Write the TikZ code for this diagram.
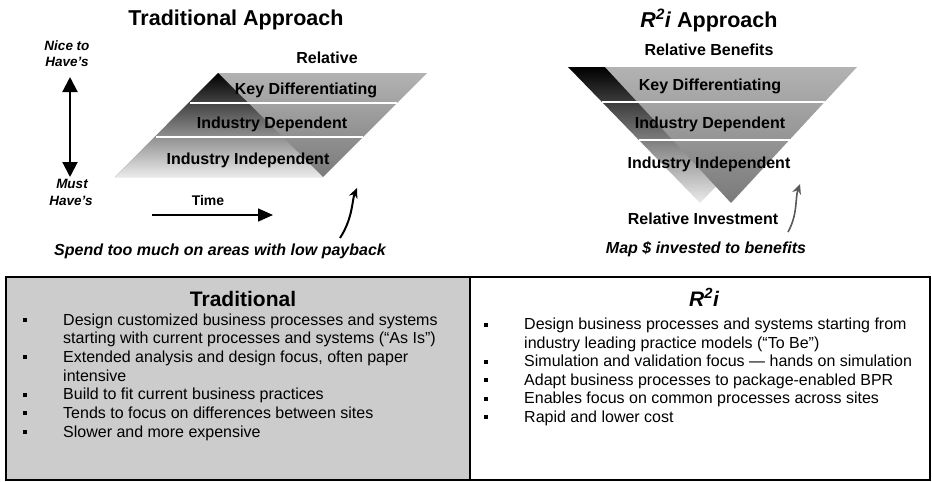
\documentclass[tikz,border=0pt]{standalone}
\usepackage{fontspec}
\setmainfont{Liberation Sans}
\usetikzlibrary{arrows.meta}

\begin{document}
\begin{tikzpicture}[x=1pt, y=-1pt,
        title/.style={font=\fontsize{21.5}{24}\selectfont\bfseries, inner sep=0pt, anchor=base},
        lbl/.style={font=\fontsize{16}{18}\selectfont\bfseries, inner sep=0pt, anchor=base},
        side/.style={font=\fontsize{13.5}{16}\selectfont\bfseries\itshape, inner sep=0pt, anchor=base},
        note/.style={font=\fontsize{16}{18}\selectfont\bfseries\itshape, inner sep=0pt, anchor=base},
        item/.style={font=\fontsize{16}{18}\selectfont, inner sep=0pt, anchor=base west},
        dot/.style={rectangle, fill=black, minimum size=4pt, inner sep=0pt},
        band/.style={white, line width=1.2pt},
        dbl/.style={line width=2pt, {Triangle[length=15pt, width=15pt]}-{Triangle[length=15pt, width=15pt]}},
        time/.style={line width=1.5pt, -{Triangle[length=15pt, width=13pt]}},
        swoosh/.style={line width=2pt, -{Stealth[length=10pt, width=9pt]}}]
        \useasboundingbox (0,0) rectangle (932,482);

        % Shapes
        \shade[top color=black!30, bottom color=black!52] (218,73) -- (427,73) -- (323,177) -- (115,177) -- cycle;
        \shade[top color=black, bottom color=black!8] (218,73) -- (323,177) -- (115,177) -- cycle;
        \draw[band] (190,103) -- (397,103);
        \draw[band] (156,137) -- (363,137);

        \shade[top color=black, bottom color=black!8] (568,67) -- (832,67) -- (700,203) -- cycle;
        \shade[top color=black!30, bottom color=black!52] (605,67) -- (857,67) -- (731,203) -- cycle;
        \draw[band] (602,102) -- (825,102);
        \draw[band] (639,140) -- (790,140);

        \fill[black!20] (6,277) rectangle (470,480);
        \draw[line width=1.2pt] (6,277) rectangle (930,480);
        \draw[line width=1.5pt] (470,277) -- (470,480);

        % Nodes
        \node[title] (tradtitle) at (236,25) {Traditional Approach};
        \node[title] (rtitle) at (709,27) {\textit{R\textsuperscript{2}i} Approach};

        \node[side] (nice1) at (67,50) {Nice to};
        \node[side] (nice2) at (67,66) {Have’s};
        \node[side] (must1) at (72,188) {Must};
        \node[side] (must2) at (71,205) {Have’s};
        \node[lbl, font=\fontsize{14}{16}\selectfont\bfseries] (time) at (208,205) {Time};

        \node[lbl] (rel) at (327,63) {Relative};
        \node[lbl] (key1) at (306,94) {Key Differentiating};
        \node[lbl] (dep1) at (272,128) {Industry Dependent};
        \node[lbl] (ind1) at (248,164) {Industry Independent};
        \node[note] (spend) at (220,255) {Spend too much on areas with low payback};

        \node[lbl] (ben) at (709,55) {Relative Benefits};
        \node[lbl] (key2) at (710,90) {Key Differentiating};
        \node[lbl] (dep2) at (710,128) {Industry Dependent};
        \node[lbl] (ind2) at (709,168) {Industry Independent};
        \node[lbl] (inv) at (703,224) {Relative Investment};
        \node[note] (map) at (706,253) {Map \$ invested to benefits};

        \coordinate (up) at (70,77);
        \coordinate (down) at (70,177);
        \coordinate (t0) at (152,215);
        \coordinate (t1) at (273,215);
        \coordinate (s0) at (340,238);
        \coordinate (s1) at (357,188);
        \coordinate (r0) at (788,232);
        \coordinate (r1) at (800,184);

        % Boxes
        \node[title, font=\fontsize{21}{24}\selectfont\bfseries] (trad) at (243,306) {Traditional};
        \node[dot] (a1) at (25,320) {};
        \node[item] (a1x) at (63,325) {Design customized business processes and systems};
        \node[item] (a1y) at (63,343.7) {starting with current processes and systems (“As Is”)};
        \node[dot] (a2) at (25,357.3) {};
        \node[item] (a2x) at (63,362.3) {Extended analysis and design focus, often paper};
        \node[item] (a2y) at (63,381) {intensive};
        \node[dot] (a3) at (25,394.7) {};
        \node[item] (a3x) at (63,399.7) {Build to fit current business practices};
        \node[dot] (a4) at (25,413.3) {};
        \node[item] (a4x) at (63,418.3) {Tends to focus on differences between sites};
        \node[dot] (a5) at (25,432) {};
        \node[item] (a5x) at (63,437) {Slower and more expensive};

        \node[title, font=\fontsize{21}{24}\selectfont\bfseries\itshape] (rsq) at (704,306) {R\textsuperscript{2}i};
        \node[dot] (b1) at (486,324.5) {};
        \node[item] (b1x) at (524,329.5) {Design business processes and systems starting from};
        \node[item] (b1y) at (524,348) {industry leading practice models (“To Be”)};
        \node[dot] (b2) at (486,361.5) {};
        \node[item] (b2x) at (524,366.5) {Simulation and validation focus — hands on simulation};
        \node[dot] (b3) at (486,380) {};
        \node[item] (b3x) at (524,385) {Adapt business processes to package-enabled BPR};
        \node[dot] (b4) at (486,398.5) {};
        \node[item] (b4x) at (524,403.5) {Enables focus on common processes across sites};
        \node[dot] (b5) at (486,417) {};
        \node[item] (b5x) at (524,422) {Rapid and lower cost};

        % Edges
        \draw[dbl] (up) -- (down);
        \draw[time] (t0) -- (t1);
        \draw[swoosh] (s0) .. controls (353,218) and (352,200) .. (s1);
        \draw[swoosh, black!65, line width=1.6pt] (r0) .. controls (798,214) and (795,198) .. (r1);
    \end{tikzpicture}
\end{document}
